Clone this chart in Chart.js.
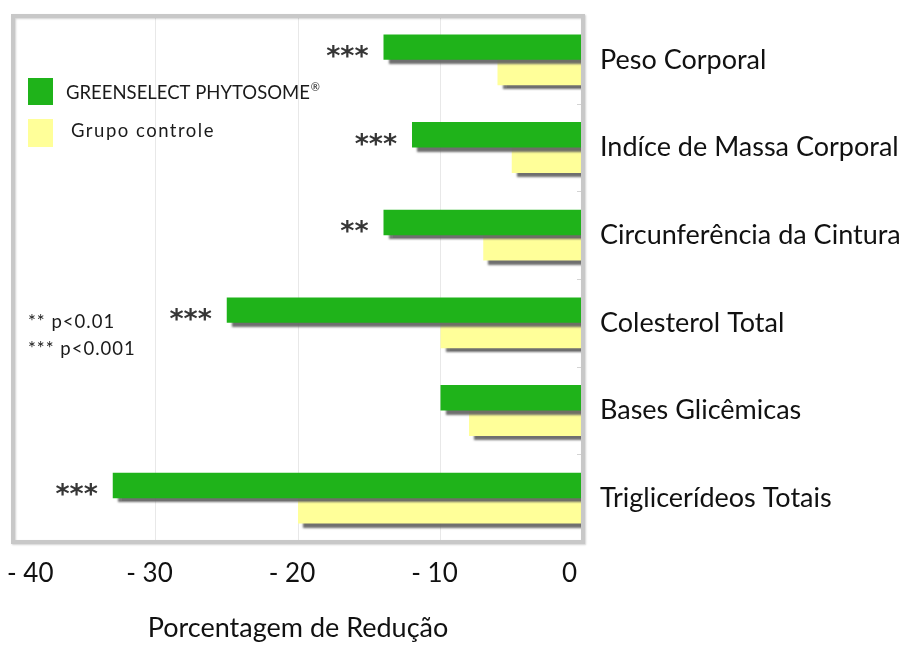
<!DOCTYPE html>
<html>
<head>
<meta charset="utf-8">
<script src="https://cdn.jsdelivr.net/npm/chart.js@4.4.0/dist/chart.umd.min.js"></script>
<style>
  html, body { margin: 0; padding: 0; background: #ffffff; }
  #wrap { position: relative; width: 907px; height: 645px; }
</style>
</head>
<body>
<div id="wrap"><canvas id="c" width="907" height="645"></canvas></div>
<script>
const categories = ['Peso Corporal', 'Indíce de Massa Corporal', 'Circunferência da Cintura', 'Colesterol Total', 'Bases Glicêmicas', 'Triglicerídeos Totais'];
const greenselect = [-14, -12, -14, -25, -10, -33];
const controle = [-6, -5, -7, -10, -8, -20];
const significance = ['***', '***', '**', '***', '', '***'];
const xTickValues = [-40, -30, -20, -10, 0];
const xTickLabels = ['- 40', '- 30', '- 20', '- 10', '0'];
const seriesNames = ['GREENSELECT PHYTOSOME', 'Grupo controle'];
const footnotes = ['** p<0.01', '*** p<0.001'];
const axisTitle = 'Porcentagem de Redução';

const FONT = 'Lato, "Open Sans", sans-serif';
const GREEN = '#1fb31a';
const YELLOW = '#ffff99';

const shadowPlugin = {
  id: 'barShadow',
  beforeDatasetDraw(chart) {
    const ctx = chart.ctx;
    ctx.save();
    ctx.shadowColor = 'rgba(95,95,95,0.9)';
    ctx.shadowOffsetX = 5;
    ctx.shadowOffsetY = 4;
    ctx.shadowBlur = 2;
  },
  afterDatasetDraw(chart) {
    chart.ctx.restore();
  }
};

const decorPlugin = {
  id: 'decor',
  beforeDatasetsDraw(chart) {
    const ctx = chart.ctx, a = chart.chartArea;
    ctx.save();
    const ys = chart.scales.y;
    ctx.strokeStyle = '#d4d4d4';
    ctx.lineWidth = 1;
    for (let i = 1; i < categories.length; i++) {
      const yy = Math.round((ys.getPixelForValue(i - 1) + ys.getPixelForValue(i)) / 2) + 0.5;
      ctx.beginPath();
      ctx.moveTo(a.right - 6, yy);
      ctx.lineTo(a.right, yy);
      ctx.stroke();
    }
    ctx.restore();
  },
  afterDatasetsDraw(chart) {
    const ctx = chart.ctx, a = chart.chartArea;
    ctx.save();
    // frame
    ctx.save();
    ctx.shadowColor = 'rgba(0,0,0,0.18)';
    ctx.shadowBlur = 2;
    ctx.shadowOffsetX = 1;
    ctx.shadowOffsetY = 1;
    ctx.strokeStyle = '#c8c8c8';
    ctx.lineWidth = 4;
    ctx.strokeRect(a.left, a.top, a.right - a.left, a.bottom - a.top);
    ctx.restore();
    // significance stars
    const meta = chart.getDatasetMeta(0);
    ctx.fillStyle = '#363636';
    ctx.font = 'bold 27px "DejaVu Sans", sans-serif';
    ctx.textAlign = 'right';
    ctx.textBaseline = 'alphabetic';
    meta.data.forEach((bar, i) => {
      if (!significance[i]) return;
      const left = Math.min(bar.x, bar.base);
      ctx.fillText(significance[i], left - 15, bar.y + 18);
    });
    // legend
    ctx.textAlign = 'left';
    ctx.textBaseline = 'middle';
    ctx.fillStyle = GREEN;
    ctx.fillRect(28, 78, 25, 27);
    ctx.fillStyle = YELLOW;
    ctx.fillRect(28, 119, 25, 28);
    ctx.fillStyle = '#1a1a1a';
    ctx.font = '18.5px ' + FONT;
    ctx.fillText(seriesNames[0], 66, 93);
    const w = ctx.measureText(seriesNames[0]).width;
    ctx.font = '11px ' + FONT;
    ctx.fillText('®', 66 + w + 1, 87);
    ctx.font = '18.5px ' + FONT;
    ctx.letterSpacing = '1.5px';
    ctx.fillText(seriesNames[1], 71, 131);
    // footnotes
    ctx.letterSpacing = '1px';
    ctx.fillText(footnotes[0], 28, 322);
    ctx.fillText(footnotes[1], 28, 349);
    ctx.letterSpacing = '0px';
    ctx.restore();
  }
};

new Chart(document.getElementById('c'), {
  type: 'bar',
  data: {
    labels: categories,
    datasets: [
      { label: seriesNames[0], data: greenselect, backgroundColor: GREEN, borderWidth: 0,
        categoryPercentage: 0.58, barPercentage: 1.0 },
      { label: seriesNames[1], data: controle, backgroundColor: YELLOW, borderWidth: 0,
        categoryPercentage: 0.58, barPercentage: 1.0 }
    ]
  },
  options: {
    indexAxis: 'y',
    responsive: false,
    animation: false,
    layout: { autoPadding: false, padding: { left: 13, top: 16, right: 0, bottom: 0 } },
    plugins: {
      legend: { display: false },
      tooltip: { enabled: false }
    },
    scales: {
      x: {
        type: 'linear',
        min: -40, max: 0,
        afterFit(s) {
          s.height = 645 - 542;
          s.paddingLeft = 0; s.paddingRight = 0; s.paddingTop = 0; s.paddingBottom = 0;
        },
        afterBuildTicks(s) { s.ticks = xTickValues.map(v => ({ value: v })); },
        grid: { color: '#e8e8e8', lineWidth: 1, drawTicks: false },
        border: { display: false },
        ticks: {
          padding: 16,
          align: 'inner',
          labelOffset: -6,
          color: '#111111',
          font: { family: FONT, size: 26 },
          callback: (v, i) => xTickLabels[i]
        },
        title: {
          display: true,
          text: axisTitle,
          color: '#111111',
          font: { family: FONT, size: 27 },
          padding: { top: 0, bottom: 1 }
        }
      },
      y: {
        type: 'category',
        position: 'right',
        offset: true,
        afterFit(s) {
          s.width = 907 - 583;
          s.paddingLeft = 0; s.paddingRight = 0; s.paddingTop = 0; s.paddingBottom = 0;
        },
        grid: { display: false, drawTicks: false },
        border: { display: false },
        ticks: {
          padding: 17,
          color: '#111111',
          font: { family: FONT, size: 27 }
        }
      }
    }
  },
  plugins: [shadowPlugin, decorPlugin]
});
</script>
</body>
</html>
